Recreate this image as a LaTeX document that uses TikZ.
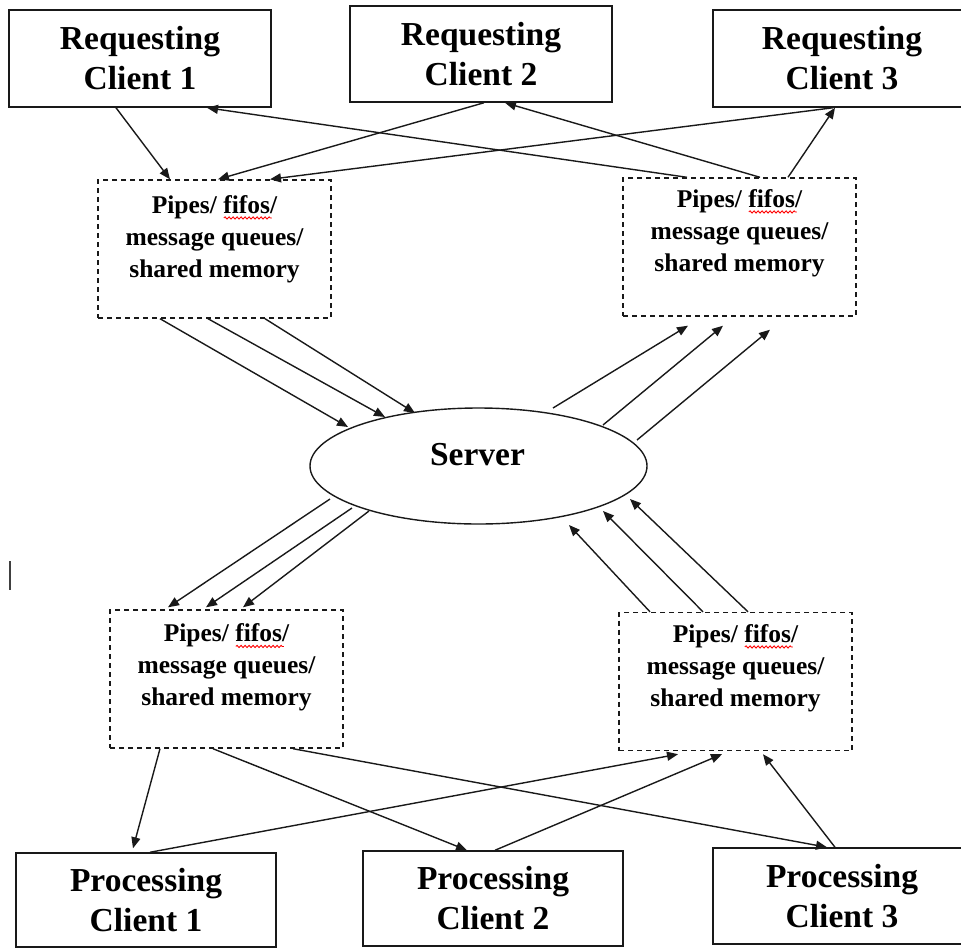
\documentclass[tikz,border=0pt]{standalone}
\usepackage{fontspec}
\setmainfont{Liberation Serif}
\usetikzlibrary{arrows.meta,shapes.geometric,decorations.pathmorphing}

% red spell-check squiggle under a word
\newcommand{\spellmark}[1]{\rlap{\tikz[baseline=0pt]\draw[red,line width=0.9pt,decorate,decoration={snake,amplitude=1.1pt,segment length=4pt}] (0pt,-4.5pt) -- (48pt,-4.5pt);}#1}
\newcommand{\ipclabel}{Pipes/ \spellmark{fifos}/\\message queues/\\shared memory}

\begin{document}
\begin{tikzpicture}[x=1pt,y=-1pt,
  client/.style={draw=black!90,line width=1.5pt,inner sep=0pt,align=center,
    font=\fontsize{33.5}{40}\selectfont\bfseries},
  ipc/.style={draw=black!90,line width=1.4pt,dash pattern=on 5pt off 4pt,inner sep=0pt,
    minimum width=233pt,minimum height=138pt},
  ipctext/.style={anchor=north,inner sep=0pt,align=center,
    font=\fontsize{25.5}{32}\selectfont\bfseries},
  link/.style={draw=black!90,line width=1.4pt,-{Triangle[length=11pt,width=9pt]}}]

\useasboundingbox (0,0) rectangle (961,948);

% requesting clients
\node[client,minimum width=262pt,minimum height=97pt] (rc1) at (140,58.5) {Requesting\\Client 1};
\node[client,minimum width=262pt,minimum height=96pt] (rc2) at (481,54) {Requesting\\Client 2};
\node[client,minimum width=258pt,minimum height=97pt] (rc3) at (842,58.5) {Requesting\\Client 3};

% IPC channels
\node[ipc] (p1) at (214.5,249) {};
\node[ipctext] (p1t) at ([yshift=-16pt]p1.north) {\ipclabel};
\node[ipc] (p2) at (739.5,247) {};
\node[ipctext] (p2t) at ([yshift=-12pt]p2.north) {\ipclabel};
\node[ipc] (p3) at (226.5,679) {};
\node[ipctext] (p3t) at ([yshift=-14.5pt]p3.north) {\ipclabel};
\node[ipc] (p4) at (735.5,681.5) {};
\node[ipctext] (p4t) at ([yshift=-12.5pt]p4.north) {\ipclabel};

% server
\node[ellipse,draw=black!90,line width=1.4pt,minimum width=337pt,minimum height=116pt,inner sep=0pt] (srv) at (478.5,466) {};
\node[font=\fontsize{33.5}{40}\selectfont\bfseries,inner sep=0pt,anchor=base] (srvt) at (477.5,465) {Server};

% processing clients
\node[client,minimum width=260pt,minimum height=94pt] (pc1) at (146,900) {Processing\\Client 1};
\node[client,minimum width=260pt,minimum height=95pt] (pc2) at (493,898.5) {Processing\\Client 2};
\node[client,minimum width=258pt,minimum height=96pt] (pc3) at (842,896) {Processing\\Client 3};

% requests into the first channel, replies out of the second
\draw[link] ([xshift=-24pt]rc1.south) -- ([xshift=-44.5pt]p1.north);
\draw[link] ([xshift=3pt]rc2.south) -- ([xshift=3.5pt]p1.north);
\draw[link] ([xshift=-9pt]rc3.south) -- ([xshift=55.5pt]p1.north);
\draw[link] ([xshift=-52.5pt]p2.north) -- ([xshift=67pt]rc1.south);
\draw[link] ([xshift=20.5pt]p2.north) -- ([xshift=24pt]rc2.south);
\draw[link] ([xshift=48.5pt]p2.north) -- ([xshift=-7pt]rc3.south);

% channels to and from the server
\draw[link] ([xshift=-54.5pt]p1.south) -- ([shift={(-130.5pt,39pt)}]srv.center);
\draw[link] ([xshift=-6.5pt]p1.south) -- ([shift={(-93.5pt,49pt)}]srv.center);
\draw[link] ([xshift=50.5pt]p1.south) -- ([shift={(-63.5pt,53pt)}]srv.center);
\draw[link] ([shift={(74.5pt,58pt)}]srv.center) -- ([xshift=-51.5pt,yshift=-9pt]p2.south);
\draw[link] ([shift={(124.5pt,41pt)}]srv.center) -- ([xshift=-16.5pt,yshift=-9pt]p2.south);
\draw[link] ([shift={(158.5pt,26pt)}]srv.center) -- ([xshift=30.5pt,yshift=-13pt]p2.south);
\draw[link] ([shift={(-148.5pt,-33pt)}]srv.center) -- ([xshift=-58.5pt,yshift=2pt]p3.north);
\draw[link] ([shift={(-126.5pt,-42pt)}]srv.center) -- ([xshift=-20.5pt,yshift=2pt]p3.north);
\draw[link] ([shift={(-109.5pt,-45pt)}]srv.center) -- ([xshift=16.5pt,yshift=2pt]p3.north);
\draw[link] ([xshift=-85.5pt]p4.north) -- ([shift={(90.5pt,-59pt)}]srv.center);
\draw[link] ([xshift=-32.5pt]p4.north) -- ([shift={(124.5pt,-45pt)}]srv.center);
\draw[link] ([xshift=12.5pt]p4.north) -- ([shift={(151.5pt,-33pt)}]srv.center);

% work handed to the processing clients, results handed back
\draw[link] ([xshift=-66.5pt]p3.south) -- ([xshift=-13pt,yshift=4pt]pc1.north);
\draw[link] ([xshift=-13.5pt]p3.south) -- ([xshift=-26pt]pc2.north);
\draw[link] ([xshift=66.5pt]p3.south) -- ([xshift=-15pt]pc3.north);
\draw[link] ([xshift=4pt]pc1.north) -- ([xshift=-57.5pt,yshift=-3pt]p4.south);
\draw[link] ([xshift=2pt]pc2.north) -- ([xshift=-13.5pt,yshift=-3pt]p4.south);
\draw[link] ([xshift=-7pt]pc3.north) -- ([xshift=27.5pt,yshift=-3pt]p4.south);

% text cursor mark
\draw[line width=2pt,black!75] (10,561) -- (10,590);
\end{tikzpicture}
\end{document}
